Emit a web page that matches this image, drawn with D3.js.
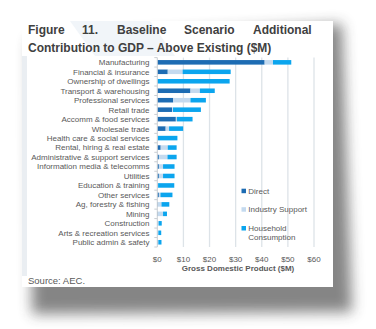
<!DOCTYPE html>
<html><head><meta charset="utf-8">
<script src="https://cdn.jsdelivr.net/npm/d3@7"></script>
<style>html,body{margin:0;padding:0;background:#fff;}svg{display:block;font-family:"Liberation Sans",Arial,sans-serif;}</style>
</head><body>
<svg id="chart" width="376" height="329"></svg>
<script>
const categories = ["Manufacturing","Financial & insurance","Ownership of dwellings","Transport & warehousing","Professional services","Retail trade","Accomm & food services","Wholesale trade","Health care & social services","Rental, hiring & real estate","Administrative & support services","Information media & telecomms","Utilities","Education & training","Other services","Ag, forestry & fishing","Mining","Construction","Arts & recreation services","Public admin & safety"];
const direct    = [41.1, 4.0, 0.0, 12.7, 6.1, 5.7, 7.1, 3.2, 0.0, 1.3, 0.6, 0.6, 0.6, 0.1, 0.6, 0.2, 0.2, 0.1, 0.1, 0.2];
const industry  = [ 3.2, 5.7, 0.0,  3.6, 6.6, 0.3, 0.4, 1.3, 0.1, 2.7, 3.3, 1.6, 1.6, 0.2, 0.6, 1.4, 2.0, 0.4, 0.3, 0.2];
const household = [ 7.0,18.4,27.7,  5.7, 5.9,10.7, 6.0, 5.4, 7.6, 3.4, 3.5, 4.4, 4.4, 6.2, 4.6, 3.0, 1.5, 1.2, 1.1, 1.2];
const seriesNames = ["Direct","Industry Support","Household Consumption"];
const seriesColors = ["#1d6cb3","#c4daef","#0ba5ee"];
const xTicks = [0,10,20,30,40,50,60];
const titleLine1 = ["Figure","11.","Baseline","Scenario","Additional"];
const titleLine2 = "Contribution to GDP \u2013 Above Existing ($M)";
const xTitle = "Gross Domestic Product ($M)";
const source = "Source: AEC.";

const svg = d3.select("#chart");
const defs = svg.append("defs");
defs.append("filter").attr("id","blur").attr("x","-20%").attr("y","-20%").attr("width","140%").attr("height","140%")
  .append("feGaussianBlur").attr("stdDeviation",7);

// card shadow
svg.append("polygon")
  .attr("points","30,40 342,24 352,312 32,314")
  .attr("fill","#3a3a3a").attr("opacity",0.62).attr("filter","url(#blur)");
// card
svg.append("rect").attr("x",22).attr("y",21).attr("width",311).attr("height",266).attr("fill","#fff");
// faint decorations
svg.append("rect").attr("x",22).attr("y",56).attr("width",5).attr("height",220).attr("fill","#eaeef2");
svg.append("polygon").attr("points","70,21 150,21 175,56 95,56").attr("fill","#f1f5f9");

// title
const tx = [28,82,117,184,253];
svg.append("g").selectAll("text").data(titleLine1).join("text")
  .attr("x",(d,i)=>tx[i]).attr("y",33.5).text(d=>d)
  .attr("font-size",12).attr("font-weight","bold").attr("fill","#404040");
svg.append("text").attr("x",28).attr("y",52).text(titleLine2)
  .attr("font-size",12).attr("font-weight","bold").attr("fill","#404040");

// scales
const x = d3.scaleLinear().domain([0,60]).range([157.3,314]);
const y = d3.scaleBand().domain(categories).range([57.6,247]).paddingInner(0.52).paddingOuter(0.26);
const step = y.step();

// gridlines
svg.append("g").selectAll("line").data(xTicks.slice(1)).join("line")
  .attr("x1",d=>x(d)).attr("x2",d=>x(d)).attr("y1",57.6).attr("y2",247)
  .attr("stroke","#dde3e8").attr("stroke-width",1.3);

// bars
const stackData = categories.map((c,i)=>({cat:c, d:direct[i], s:industry[i], h:household[i]}));
const stack = d3.stack().keys(["d","s","h"])(stackData);
svg.append("g").selectAll("g").data(stack).join("g")
  .attr("fill",(d,i)=>seriesColors[i])
  .selectAll("rect").data(d=>d).join("rect")
  .attr("x",d=>x(d[0])).attr("width",d=>Math.max(0,x(d[1])-x(d[0])))
  .attr("y",d=>y(d.data.cat)).attr("height",y.bandwidth());

// y axis
const yAxisG = svg.append("g");
yAxisG.append("line").attr("x1",157.3).attr("x2",157.3).attr("y1",57.6).attr("y2",247).attr("stroke","#c8cdd2").attr("stroke-width",1);
const bounds = d3.range(categories.length+1).map(i=>57.6+i*step);
yAxisG.selectAll("line.t").data(bounds).join("line").attr("class","t")
  .attr("x1",154.3).attr("x2",157.3).attr("y1",d=>d).attr("y2",d=>d).attr("stroke","#c8cdd2");
yAxisG.selectAll("text").data(categories).join("text")
  .attr("x",149.5).attr("y",d=>y(d)+y.bandwidth()/2+2.9).attr("text-anchor","end")
  .attr("font-size",8).attr("fill","#595959").text(d=>d);

// x tick labels
svg.append("g").selectAll("text").data(xTicks).join("text")
  .attr("x",d=>x(d)).attr("y",262).attr("text-anchor","middle")
  .attr("font-size",8).attr("fill","#595959").text(d=>"$"+d);
svg.append("text").attr("x",238).attr("y",270.5).attr("text-anchor","middle")
  .attr("font-size",8).attr("font-weight","bold").attr("fill","#595959").text(xTitle);

// legend
const lg = svg.append("g");
const legendRows = [{t:["Direct"],y:191},{t:["Industry Support"],y:209.5},{t:["Household","Consumption"],y:228.3}];
legendRows.forEach((r,i)=>{
  lg.append("rect").attr("x",241.5).attr("y",r.y-2.3).attr("width",4.5).attr("height",4.5).attr("fill",seriesColors[i]);
  r.t.forEach((t,j)=>{
    lg.append("text").attr("x",248.3).attr("y",r.y+2.9+j*9).attr("font-size",8).attr("fill","#595959").text(t);
  });
});

// source
svg.append("text").attr("x",28).attr("y",284).attr("font-size",9.5).attr("fill","#595959").text(source);
</script>
</body></html>
